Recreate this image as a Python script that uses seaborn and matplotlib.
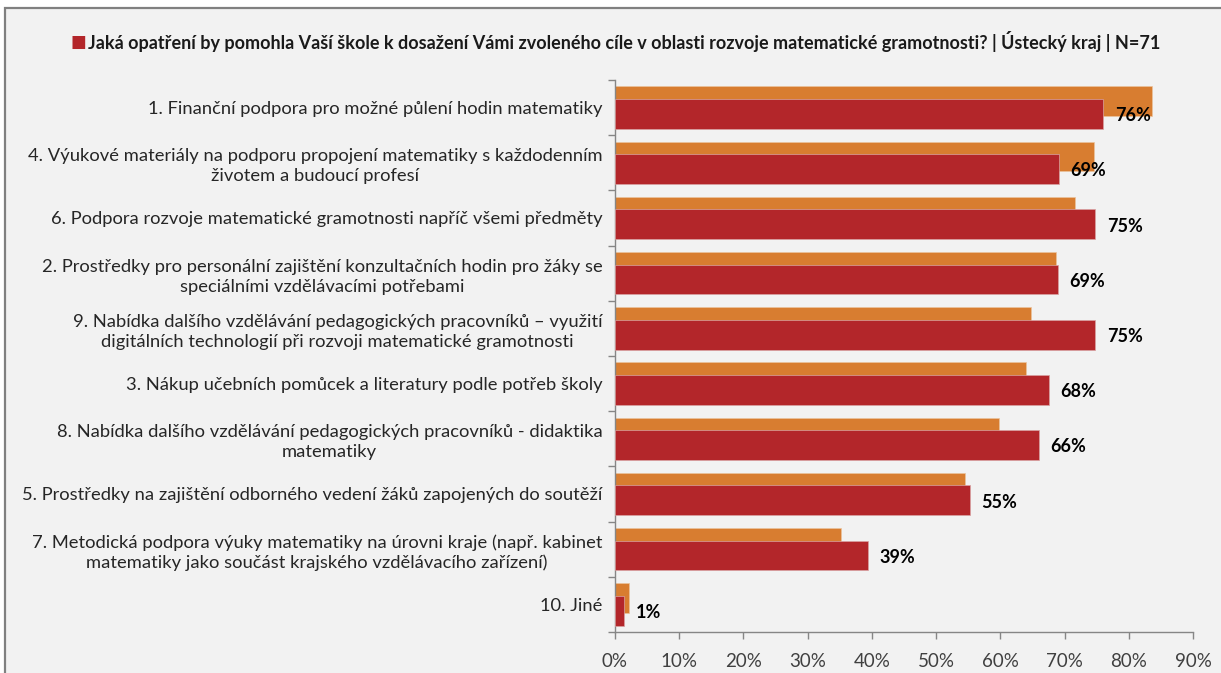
import matplotlib
matplotlib.use("Agg")
import matplotlib.pyplot as plt
import seaborn as sns
import numpy as np
from matplotlib.patches import Rectangle
from matplotlib.ticker import FixedLocator, FuncFormatter

categories = [
    "1. Finanční podpora pro možné půlení hodin matematiky",
    "4. Výukové materiály na podporu propojení matematiky s každodenním\nživotem a budoucí profesí",
    "6. Podpora rozvoje matematické gramotnosti napříč všemi předměty",
    "2. Prostředky pro personální zajištění konzultačních hodin pro žáky se\nspeciálními vzdělávacími potřebami",
    "9. Nabídka dalšího vzdělávání pedagogických pracovníků – využití\ndigitálních technologií při rozvoji matematické gramotnosti",
    "3. Nákup učebních pomůcek a literatury podle potřeb školy",
    "8. Nabídka dalšího vzdělávání pedagogických pracovníků - didaktika\nmatematiky",
    "5. Prostředky na zajištění odborného vedení žáků zapojených do soutěží",
    "7. Metodická podpora výuky matematiky na úrovni kraje (např. kabinet\nmatematiky jako součást krajského vzdělávacího zařízení)",
    "10. Jiné",
]
region_values = [76.0, 69.1, 74.8, 69.0, 74.8, 67.6, 66.0, 55.2, 39.4, 1.4]
comparison_values = [83.6, 74.6, 71.7, 68.7, 64.8, 64.0, 59.8, 54.5, 35.2, 2.2]
x_ticks = [0, 10, 20, 30, 40, 50, 60, 70, 80, 90]
title = "Jaká opatření by pomohla Vaší škole k dosažení Vámi zvoleného cíle v oblasti rozvoje matematické gramotnosti? | Ústecký kraj | N=71"

RED = "#B3262A"
ORANGE = "#D87D30"
BG = "#F2F2F2"
FONT = ["Lato", "DejaVu Sans"]

sns.set_theme(style="white")
plt.rcParams["font.family"] = FONT

W, H = 1221, 673
fig = plt.figure(figsize=(W / 100, H / 100), dpi=100, facecolor="white")
fig.patches.append(Rectangle((5 / W, -0.05), 1.2, (H - 8) / H + 0.05,
                             transform=fig.transFigure, facecolor=BG,
                             edgecolor="#808080", linewidth=1.6, zorder=-10))

ax = fig.add_axes([615 / W, (H - 632) / H, (1193 - 615) / W, (632 - 80) / H])
ax.set_facecolor(BG)

idx = np.arange(len(categories))
off = 0.115
sns.barplot(x=comparison_values, y=idx - off, orient="y", native_scale=True,
            width=0.54, color=ORANGE, saturation=1, errorbar=None,
            edgecolor="#EBC39E", linewidth=0.5, ax=ax, zorder=2)
sns.barplot(x=region_values, y=idx + off, orient="y", native_scale=True,
            width=0.54, color=RED, saturation=1, errorbar=None,
            edgecolor="#D9A3A3", linewidth=0.5, ax=ax, zorder=3)

for i, v in enumerate(region_values):
    ax.text(v + 1.8, i + off + 0.03, f"{v:.0f}%", ha="left", va="center",
            fontsize=13, fontweight="bold", color="black", zorder=5)

ax.set_xlim(0, 90)
ax.set_ylim(len(categories) - 0.5, -0.5)
ax.xaxis.set_major_locator(FixedLocator(x_ticks))
ax.xaxis.set_major_formatter(FuncFormatter(lambda x, p: f"{x:.0f}%"))
ax.yaxis.set_major_locator(FixedLocator(np.arange(-0.5, len(categories), 1.0)))
ax.yaxis.set_major_formatter(FuncFormatter(lambda x, p: ""))
ax.yaxis.set_minor_locator(FixedLocator(idx))
ax.set_yticklabels(categories, minor=True, fontsize=13.2, color="#262626",
                   ha="right", multialignment="center", linespacing=1.3)
ax.tick_params(axis="y", which="major", length=5, width=1, color="#868686", direction="out", left=True)
ax.tick_params(axis="y", which="minor", length=0, pad=9)
ax.tick_params(axis="x", which="major", length=5, width=1, color="#868686", direction="out",
               bottom=True, labelsize=13.5, labelcolor="#404040", pad=10)
ax.set_xlabel("")
ax.set_ylabel("")
for s in ["top", "right"]:
    ax.spines[s].set_visible(False)
for s in ["left", "bottom"]:
    ax.spines[s].set_visible(True)
    ax.spines[s].set_color("#868686")
    ax.spines[s].set_linewidth(1)

fig.text(71 / W, 1 - 42 / H, "■", family="DejaVu Sans", color=RED, fontsize=12,
         ha="left", va="center")
fig.text(88 / W, 1 - 42 / H, title, fontsize=13, fontweight="bold", color="#1A1A1A",
         ha="left", va="center")

fig.savefig("out.png", dpi=100, facecolor="white")
